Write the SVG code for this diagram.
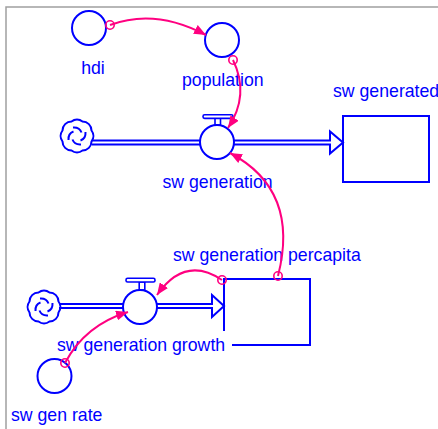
<svg xmlns="http://www.w3.org/2000/svg" width="438" height="429" viewBox="0 0 438 429">
<defs>
<style>
.frame{fill:none;stroke:#a0a0a0;stroke-width:1.5}
.aux{fill:#fff;stroke:#0000ff;stroke-width:2}
.stock{fill:none;stroke:#0000ff;stroke-width:2}
.pipe{fill:none;stroke:#0000ff;stroke-width:2;stroke-linejoin:miter}
.valvebar{fill:#fff;stroke:#0000ff;stroke-width:1.6}
.cloud{fill:none;stroke:#0000ff;stroke-width:2}
.lbl{font-family:"Liberation Sans",Arial,sans-serif;font-size:17.7px;fill:#0000ff}
.link{fill:none;stroke:#ff0080;stroke-width:2}
.orig{fill:none;stroke:#ff0080;stroke-width:1.6}
</style>
<marker id="ah" viewBox="0 0 12 10" refX="12" refY="5" markerWidth="12" markerHeight="10" markerUnits="userSpaceOnUse" orient="auto">
<path d="M0,0 L12,5 L0,10 z" fill="#ff0080"/>
</marker>
<g id="cloudsym">
<path class="cloud" d="M14.5,-5.5 A9,9 0 0 1 14.5,5.5 A9,9 0 0 1 5.5,14.5 A9,9 0 0 1 -5.5,14.5 A9,9 0 0 1 -14.5,5.5 A9,9 0 0 1 -14.5,-5.5 A9,9 0 0 1 -5.5,-14.5 A9,9 0 0 1 5.5,-14.5 A9,9 0 0 1 14.5,-5.5 z"/>
<path class="cloud" d="M-4,-8.5 Q2.5,-9 4.5,-3.5 M8.5,-4 Q9,2.5 3.5,4.5 M4,8.5 Q-2.5,9 -4.5,3.5 M-8.5,4 Q-9,-2.5 -3.5,-4.5"/>
</g>
</defs>

<path class="frame" d="M6,429 V7 H438"/>

<g id="flow-sw-generation">
<use href="#cloudsym" x="77" y="136"/>
<path class="pipe" d="M92,140.5 H330 V131.5 L343,142.5 L330,153.5 V144.5 H92"/>
<rect class="valvebar" x="215" y="118" width="5.5" height="7"/>
<rect class="valvebar" x="203" y="114.8" width="30" height="3.6" rx="1.6"/>
<circle class="aux" cx="217" cy="142" r="17"/>
<text class="lbl" x="162.5" y="188">sw generation</text>
</g>

<g id="stock-sw-generated">
<rect class="stock" x="343" y="116" width="86" height="66"/>
<text class="lbl" x="333" y="97">sw generated</text>
</g>

<g id="aux-hdi">
<circle class="aux" cx="89" cy="28" r="17"/>
<text class="lbl" x="93" y="74" text-anchor="middle">hdi</text>
</g>

<g id="aux-population">
<circle class="aux" cx="222" cy="40" r="17"/>
<text class="lbl" x="182" y="86">population</text>
</g>

<g id="flow-sw-generation-growth">
<use href="#cloudsym" x="44" y="307"/>
<path class="pipe" d="M59,304 H212 V295 L224,306 L212,317 V308 H59"/>
<rect class="valvebar" x="139.2" y="282" width="5.6" height="8"/>
<rect class="valvebar" x="126" y="278.3" width="29" height="3.7" rx="1.6"/>
<circle class="aux" cx="140" cy="307" r="17"/>
<text class="lbl" x="57" y="351">sw generation growth</text>
</g>

<g id="stock-sw-generation-percapita">
<path class="stock" d="M224,331 V279 H310 V345 H232"/>
<text class="lbl" x="173" y="261">sw generation percapita</text>
</g>

<g id="aux-sw-gen-rate">
<circle class="aux" cx="54.5" cy="376" r="17"/>
<text class="lbl" x="11" y="421">sw gen rate</text>
</g>

<g id="connectors">
<path class="link" d="M110,25 Q155,8 206,35" marker-end="url(#ah)"/>
<circle class="orig" cx="110" cy="25" r="4.2"/>
<path class="link" d="M233,60 Q250,95 228,128" marker-end="url(#ah)"/>
<circle class="orig" cx="233" cy="60" r="4.2"/>
<path class="link" d="M278,276 Q300,190 230,153" marker-end="url(#ah)"/>
<circle class="orig" cx="278" cy="276" r="4.2"/>
<path class="link" d="M222,280 Q185,255 157,295" marker-end="url(#ah)"/>
<circle class="orig" cx="222" cy="280" r="4.2"/>
<path class="link" d="M65,363 Q85,325 128,312" marker-end="url(#ah)"/>
<circle class="orig" cx="65" cy="363" r="4.2"/>
</g>
</svg>
